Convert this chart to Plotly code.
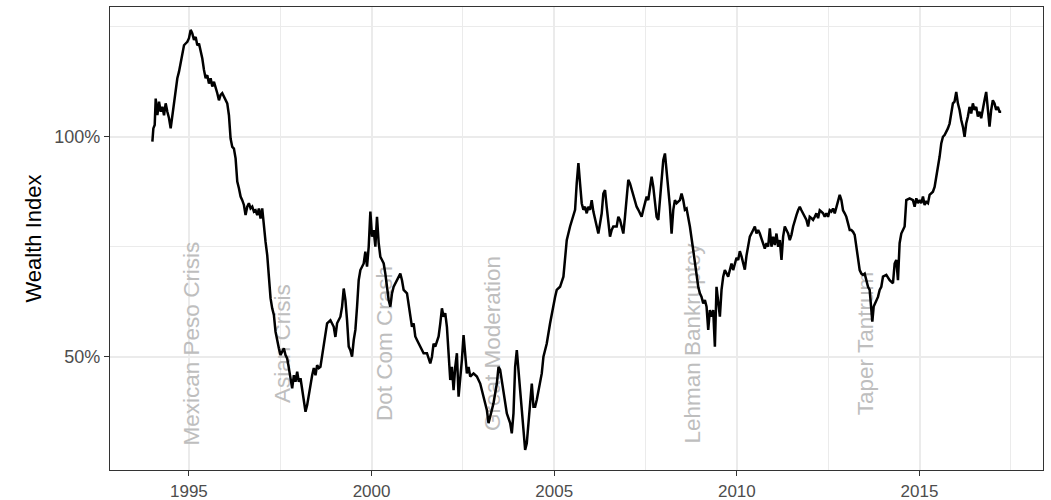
import plotly.graph_objects as go

# ---- data (decimal year, wealth index in %) ----
dates = [
    1994.000, 1994.027, 1994.064, 1994.091, 1994.137, 1994.182, 1994.228, 1994.273, 1994.319, 1994.364,
    1994.410, 1994.456, 1994.501, 1994.547, 1994.592, 1994.638, 1994.683, 1994.729, 1994.775, 1994.820,
    1994.866, 1994.911, 1994.957, 1995.002, 1995.048, 1995.093, 1995.139, 1995.185, 1995.230, 1995.276,
    1995.321, 1995.367, 1995.412, 1995.458, 1995.503, 1995.549, 1995.595, 1995.640, 1995.686, 1995.731,
    1995.777, 1995.822, 1995.868, 1995.913, 1995.959, 1996.005, 1996.050, 1996.096, 1996.141, 1996.187,
    1996.232, 1996.278, 1996.324, 1996.369, 1996.415, 1996.460, 1996.506, 1996.551, 1996.597, 1996.642,
    1996.688, 1996.734, 1996.779, 1996.825, 1996.870, 1996.916, 1996.961, 1997.007, 1997.053, 1997.098,
    1997.144, 1997.189, 1997.235, 1997.280, 1997.326, 1997.371, 1997.417, 1997.463, 1997.508, 1997.554,
    1997.599, 1997.645, 1997.690, 1997.736, 1997.782, 1997.827, 1997.873, 1997.918, 1997.964, 1998.009,
    1998.055, 1998.100, 1998.146, 1998.192, 1998.237, 1998.283, 1998.328, 1998.374, 1998.419, 1998.465,
    1998.510, 1998.556,
    1998.600, 1998.691, 1998.783, 1998.874, 1998.965, 1999.010, 1999.056, 1999.147, 1999.193, 1999.238,
    1999.284, 1999.329, 1999.375, 1999.420, 1999.466, 1999.512, 1999.557, 1999.603, 1999.648, 1999.694,
    1999.785, 1999.830, 1999.876, 1999.922, 1999.967, 2000.013, 2000.058, 2000.104, 2000.149, 2000.195,
    2000.241, 2000.286, 2000.332, 2000.377, 2000.423, 2000.468, 2000.514, 2000.559, 2000.605, 2000.651,
    2000.696, 2000.742, 2000.787, 2000.833, 2000.878, 2000.970, 2001.015, 2001.061, 2001.106, 2001.152,
    2001.197, 2001.243, 2001.334, 2001.425, 2001.516, 2001.607, 2001.653, 2001.698, 2001.744, 2001.790,
    2001.835, 2001.881, 2001.926, 2001.972, 2002.017, 2002.063, 2002.108, 2002.154, 2002.200, 2002.245,
    2002.291, 2002.336, 2002.382, 2002.427, 2002.473, 2002.518, 2002.564, 2002.609, 2002.655, 2002.701,
    2002.792, 2002.883, 2002.974,
    2003.065, 2003.156, 2003.202, 2003.247, 2003.338, 2003.429, 2003.475, 2003.520, 2003.566, 2003.612,
    2003.657, 2003.703, 2003.794, 2003.839, 2003.885, 2003.930, 2003.976, 2004.022, 2004.067, 2004.113,
    2004.158, 2004.204, 2004.249, 2004.295, 2004.340, 2004.386, 2004.432, 2004.477, 2004.523, 2004.568,
    2004.614, 2004.659, 2004.705, 2004.796, 2004.887, 2004.933, 2004.978, 2005.024, 2005.069, 2005.160,
    2005.252, 2005.297, 2005.343, 2005.434, 2005.525, 2005.571, 2005.616, 2005.662, 2005.707, 2005.753,
    2005.798, 2005.844, 2005.890, 2005.935, 2005.981, 2006.026, 2006.072, 2006.117, 2006.163, 2006.208,
    2006.254, 2006.300, 2006.345, 2006.391, 2006.436, 2006.482, 2006.527, 2006.573, 2006.618, 2006.710,
    2006.755, 2006.801, 2006.846, 2006.892, 2006.937, 2006.983, 2007.028, 2007.074, 2007.120, 2007.165,
    2007.211, 2007.256, 2007.302, 2007.347, 2007.393, 2007.438, 2007.484, 2007.530, 2007.575, 2007.621,
    2007.666, 2007.712, 2007.757, 2007.803, 2007.849, 2007.894, 2007.940, 2007.985, 2008.031, 2008.076,
    2008.122, 2008.167, 2008.213, 2008.259, 2008.304, 2008.350, 2008.441, 2008.486, 2008.532, 2008.577,
    2008.623, 2008.669, 2008.714,
    2008.806, 2008.851, 2008.897, 2008.942, 2008.988, 2009.033, 2009.079, 2009.125, 2009.170, 2009.216,
    2009.261, 2009.307, 2009.352, 2009.398, 2009.443, 2009.489, 2009.535, 2009.580, 2009.626, 2009.671,
    2009.717, 2009.762, 2009.808, 2009.853, 2009.899, 2009.945, 2009.990, 2010.036, 2010.081, 2010.127,
    2010.172, 2010.218, 2010.264, 2010.309,
    2010.355, 2010.446, 2010.492, 2010.537, 2010.583, 2010.628, 2010.674, 2010.719, 2010.765, 2010.811,
    2010.856, 2010.902, 2010.947, 2010.993, 2011.038, 2011.084, 2011.130, 2011.175, 2011.221, 2011.266,
    2011.312, 2011.357, 2011.403, 2011.448, 2011.494, 2011.540, 2011.585, 2011.631, 2011.676, 2011.722,
    2011.767, 2011.813, 2011.859, 2011.904, 2011.950, 2011.995, 2012.041, 2012.086, 2012.132, 2012.177,
    2012.223, 2012.269, 2012.314, 2012.360, 2012.405, 2012.451, 2012.496, 2012.542, 2012.587, 2012.633,
    2012.679, 2012.724, 2012.770, 2012.815, 2012.861, 2012.906, 2012.952, 2012.997, 2013.043, 2013.089,
    2013.134, 2013.180, 2013.225, 2013.271, 2013.316, 2013.362, 2013.408, 2013.453, 2013.499, 2013.544,
    2013.590, 2013.635, 2013.681, 2013.708, 2013.745, 2013.818, 2013.863, 2013.909, 2013.954, 2014.000,
    2014.091, 2014.182, 2014.273, 2014.319, 2014.364, 2014.410, 2014.455, 2014.501, 2014.592,
    2014.638, 2014.729, 2014.820, 2014.866, 2014.912, 2014.957, 2015.003, 2015.048, 2015.094, 2015.139,
    2015.185, 2015.231, 2015.276, 2015.322, 2015.367, 2015.413, 2015.458, 2015.504, 2015.550, 2015.595,
    2015.641, 2015.686, 2015.732, 2015.777, 2015.823, 2015.868, 2015.914, 2015.959, 2016.005, 2016.050,
    2016.096, 2016.142, 2016.187, 2016.233, 2016.278, 2016.324, 2016.369, 2016.415, 2016.460, 2016.506,
    2016.552, 2016.597, 2016.643, 2016.688, 2016.734, 2016.779, 2016.825, 2016.870, 2016.916, 2016.962,
    2017.007, 2017.053, 2017.098, 2017.144, 2017.189, 2017.235,
]

wealth = [
    98.9, 101.9, 102.7, 108.7, 104.9, 108.0, 105.7, 106.8, 104.9, 107.6,
    105.7, 104.2, 101.9, 104.9, 108.7, 111.0, 113.3, 114.8, 117.1, 119.3,
    120.8, 121.2, 121.6, 122.4, 124.3, 123.5, 122.0, 122.7, 120.8, 121.2,
    119.7, 117.8, 115.2, 113.3, 114.0, 112.1, 113.3, 111.4, 112.5, 111.4,
    109.9, 108.3, 109.5, 109.9, 109.1, 108.3, 107.6, 104.9, 99.6, 97.7,
    97.3, 95.1, 89.8, 88.3, 86.4, 85.6, 84.5, 82.2, 84.1, 84.9,
    83.7, 84.1, 83.0, 83.3, 82.2, 83.7, 81.4, 83.7, 79.2, 76.1,
    73.1, 67.8, 63.3, 61.0, 59.5, 55.7, 53.4, 51.9, 50.4, 51.1,
    51.9, 50.4, 49.6, 47.4, 45.1, 42.8, 45.8, 44.3, 46.6, 44.3,
    45.1, 42.8, 40.5, 37.5, 39.0, 41.3, 44.3, 45.8, 47.4, 45.8,
    48.1, 47.4,
    47.7, 52.3, 57.6, 58.3, 56.8, 54.5, 57.6, 59.1, 61.4, 65.5,
    62.9, 58.3, 52.3, 51.5, 50.0, 53.8, 56.1, 61.4, 67.4, 69.7,
    71.2, 73.9, 70.5, 75.0, 83.0, 77.3, 78.8, 75.0, 81.8, 75.8,
    72.7, 72.0, 71.2, 68.9, 65.9, 62.9, 61.4, 64.4, 65.9, 66.7,
    67.4, 68.2, 68.9, 67.4, 65.2, 64.4, 62.1, 59.9, 56.8, 57.6,
    54.6, 53.8, 52.3, 50.8, 50.8, 48.5, 50.0, 53.0, 52.3, 53.8,
    54.6, 57.6, 61.0, 59.1, 59.9, 56.8, 50.8, 44.7, 47.7, 42.4,
    47.7, 50.8, 40.9, 44.7, 49.3, 54.9, 50.8, 46.2, 47.7, 45.5,
    46.2, 45.5, 43.9,
    40.9, 37.9, 34.9, 36.4, 39.4, 43.9, 47.7, 47.0, 44.7, 42.4,
    39.4, 37.1, 34.9, 32.6, 37.1, 47.7, 51.5, 47.7, 42.4, 37.9,
    33.3, 28.8, 30.3, 34.9, 39.4, 43.9, 38.6, 38.6, 40.2, 42.4,
    43.9, 46.2, 50.0, 53.0, 57.6, 59.9, 61.4, 63.6, 65.2, 65.9,
    68.2, 72.7, 76.5, 79.6, 81.8, 83.4, 89.4, 94.0, 89.4, 84.9,
    83.4, 84.1, 82.6, 84.1, 83.4, 85.6, 83.0, 81.1, 79.6, 78.0,
    80.3, 82.6, 87.1, 87.9, 84.1, 80.3, 77.3, 78.8, 79.6, 79.6,
    81.8, 81.1, 79.6, 78.0, 81.8, 87.1, 90.2, 89.4, 87.9, 86.4,
    84.9, 84.1, 83.4, 82.6, 81.8, 83.4, 84.9, 86.4, 85.6, 87.9,
    90.9, 88.6, 84.9, 81.8, 81.1, 85.6, 90.9, 94.7, 96.2, 92.4,
    88.6, 84.1, 78.0, 83.4, 85.6, 84.9, 85.6, 87.1, 85.6, 83.4,
    83.7, 81.8, 79.6,
    74.2, 71.2, 68.9, 65.9, 64.4, 63.6, 62.1, 62.9, 61.4, 56.1,
    60.6, 59.1, 60.6, 52.3, 65.9, 62.1, 59.1, 65.2, 68.2, 69.7,
    68.9, 68.2, 69.7, 71.2, 69.7, 71.5, 72.5, 72.0, 74.0, 72.8,
    71.5, 69.8, 73.0, 75.0,
    77.3, 78.8, 79.6, 78.0, 78.8, 78.0, 76.9, 75.8, 74.6, 75.8,
    75.0, 79.2, 75.0, 77.3, 75.4, 78.0, 75.0, 76.5, 72.0, 77.3,
    79.6, 78.8, 78.0, 76.5, 77.7, 79.6, 81.1, 82.2, 83.3, 84.1,
    83.3, 82.6, 81.8, 81.1, 79.6, 81.8, 81.5, 81.1, 81.8, 82.6,
    81.5, 83.3, 83.0, 82.6, 81.8, 82.6, 81.8, 83.3, 83.0, 83.7,
    82.6, 84.1, 85.6, 86.8, 85.6, 83.3, 82.6, 81.8, 80.3, 78.8,
    78.8, 78.4, 77.7, 75.0, 71.2, 69.7, 68.9, 68.6, 68.9, 67.4,
    65.9, 65.2, 61.4, 58.0, 61.4, 62.9, 63.6, 65.2, 65.9, 68.2,
    68.6, 67.4, 66.7, 71.2, 72.0, 67.4, 75.8, 78.0, 79.6,
    85.6, 86.0, 85.6, 84.1, 86.0, 84.9, 85.6, 84.9, 86.4, 84.5,
    85.2, 84.9, 86.8, 87.1, 87.5, 88.6, 90.9, 92.4, 95.5, 98.5,
    100.0, 100.4, 101.1, 101.9, 103.0, 105.3, 107.6, 108.0, 110.2, 107.6,
    106.1, 103.8, 102.3, 100.0, 103.0, 104.6, 106.8, 105.3, 107.6, 106.1,
    106.8, 104.6, 105.7, 104.2, 106.8, 108.3, 110.2, 106.1, 102.3, 106.1,
    108.3, 107.6, 106.1, 106.8, 105.7, 105.7,
]

event_names = ["Mexican Peso Crisis", "Asian Crisis", "Dot Com Crash",
               "Great Moderation", "Lehman Bankruptcy", "Taper Tantrum"]
event_dates = [1995.0, 1997.5, 2000.29, 2003.23, 2008.71, 2013.45]
event_label_y = 53.0

x_ticks = [1995, 2000, 2005, 2010, 2015]
x_minor = [1997.5, 2002.5, 2007.5, 2012.5, 2017.5]
y_ticks = [50, 100]
y_ticktext = ["50%", "100%"]
y_minor = [75, 125]

FONT = "Liberation Sans, Arial, Helvetica, sans-serif"

fig = go.Figure()

fig.add_trace(go.Scatter(
    x=dates, y=wealth, mode="lines",
    line=dict(color="#000000", width=2.5),
    showlegend=False, hoverinfo="skip",
))

for name, d in zip(event_names, event_dates):
    fig.add_shape(
        type="rect", xref="x", yref="y",
        x0=d, x1=d, y0=event_label_y - 20, y1=event_label_y + 20,
        line=dict(width=0), fillcolor="rgba(0,0,0,0)", layer="between",
        label=dict(text=name, textangle=-90, textposition="middle center",
                   padding=0,
                   font=dict(family=FONT, size=22.5, color="#BEBEBE")),
    )

axis_common = dict(
    showline=True, mirror=True, linecolor="#333333", linewidth=1.3,
    ticks="outside", ticklen=5, tickwidth=1.3, tickcolor="#333333",
    showgrid=True, gridcolor="#EBEBEB", gridwidth=1.5, zeroline=False,
    automargin=False,
)

fig.update_xaxes(
    range=[1992.84, 2018.38], tickmode="array", tickvals=x_ticks,
    ticktext=[str(t) for t in x_ticks],
    tickfont=dict(family=FONT, size=17, color="#4D4D4D"),
    minor=dict(tickmode="array", tickvals=x_minor, showgrid=True,
               gridcolor="#EBEBEB", gridwidth=0.8, ticks=""),
    **axis_common,
)
fig.update_yaxes(
    range=[24.25, 129.5], tickmode="array", tickvals=y_ticks, ticktext=y_ticktext,
    tickfont=dict(family=FONT, size=18, color="#4D4D4D"),
    minor=dict(tickmode="array", tickvals=y_minor, showgrid=True,
               gridcolor="#EBEBEB", gridwidth=0.8, ticks=""),
    title=dict(text="Wealth Index", font=dict(family=FONT, size=22, color="#000000"),
               standoff=6),
    **axis_common,
)

fig.update_layout(
    width=1051, height=500,
    margin=dict(l=110, r=8, t=7, b=30),
    plot_bgcolor="#FFFFFF", paper_bgcolor="#FFFFFF",
    font=dict(family=FONT),
)

fig.write_html("out.html")
